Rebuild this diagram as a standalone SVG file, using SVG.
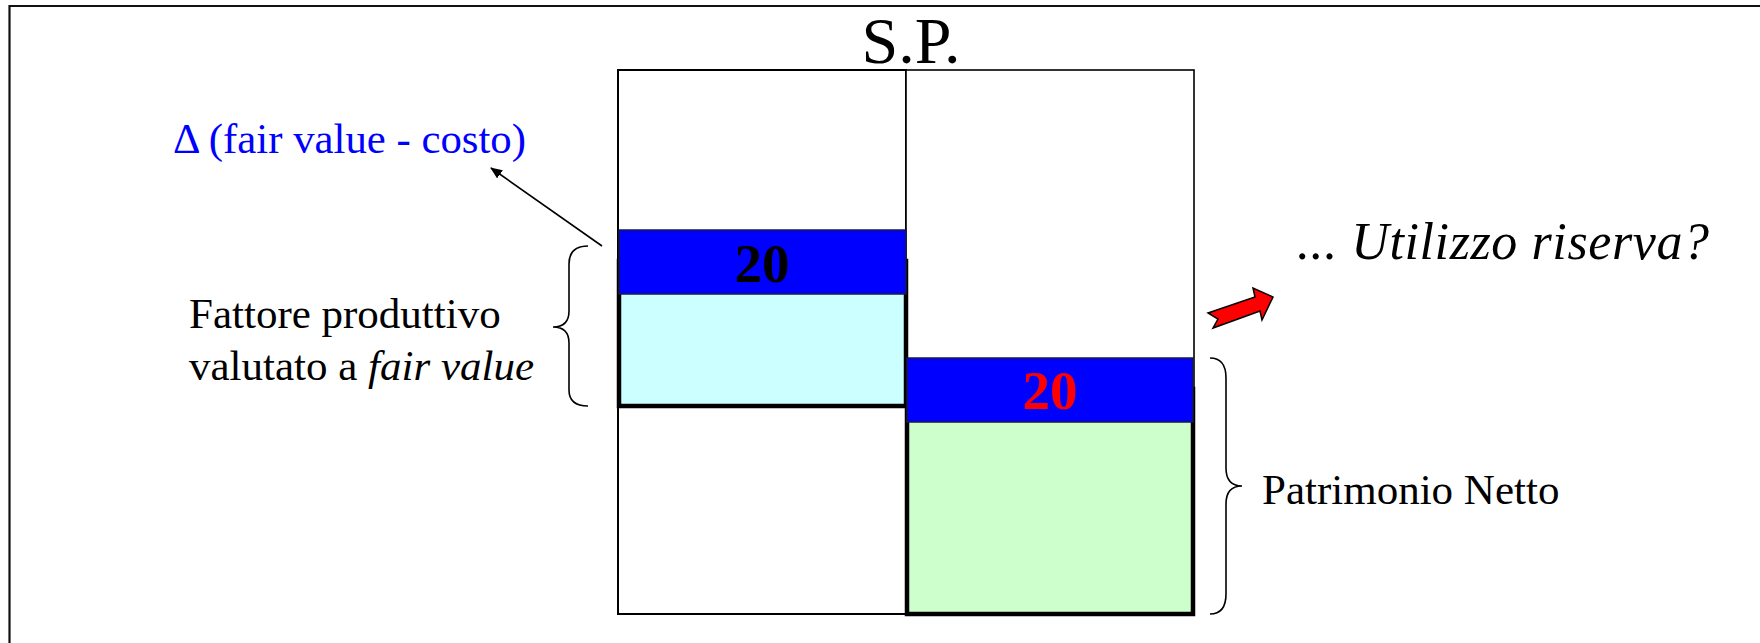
<svg xmlns="http://www.w3.org/2000/svg" width="1760" height="643" viewBox="0 0 1760 643">
<defs>
<style>
text{font-family:"Liberation Serif","Times New Roman",Times,"DejaVu Serif",serif}
.t{font-size:43px;fill:#000}
.i{font-style:italic}
.num{font-size:55px;font-weight:bold;text-anchor:middle}
.brace{fill:none;stroke:#000;stroke-width:1.6}
.col{fill:#fff;stroke:#000;stroke-width:1.6}
.thick{stroke:#000;stroke-width:4.5}
.bar{fill:#0000FF;stroke:#1a1a40;stroke-width:1.5}
</style>
<marker id="ah" viewBox="0 0 12 10" refX="11" refY="5" markerWidth="12" markerHeight="10" markerUnits="userSpaceOnUse" orient="auto">
<path d="M0,0 L12,5 L0,10 z" fill="#000"/>
</marker>
</defs>
<rect width="1760" height="643" fill="#fff"/>
<path d="M9.5,643 V6 H1760" fill="none" stroke="#111" stroke-width="2.2"/>

<g id="title"><text class="t" font-family="Liberation Serif, serif" x="911" y="63" style="font-size:66px" text-anchor="middle">S.P.</text></g>

<g id="left-column">
<rect class="col" x="618" y="70" width="288" height="544" style="stroke-width:2"/>
</g>
<g id="right-column">
<rect class="col" x="906" y="70" width="288" height="544"/>
</g>

<g id="fattore-produttivo">
<rect class="thick" x="619" y="261" width="287" height="145" fill="#CCFFFF"/>
<rect class="bar" x="619" y="230" width="287" height="64"/>
<text class="num" font-family="Liberation Serif, serif" x="762" y="282" fill="#000">20</text>
</g>

<g id="patrimonio-netto">
<rect class="thick" x="907" y="389" width="286" height="225" fill="#CCFFCC"/>
<rect class="bar" x="907" y="358" width="286" height="64"/>
<text class="num" font-family="Liberation Serif, serif" x="1050" y="409" fill="#FF0000">20</text>
</g>

<g id="label-delta"><text class="t" font-family="Liberation Serif, serif" x="173" y="153" style="fill:#0000FF" textLength="353" lengthAdjust="spacingAndGlyphs">Δ (fair value - costo)</text></g>

<g id="label-fattore">
<path class="brace" d="M588,246 Q569,246 569,264 L569,311 Q569,327 553,327 Q569,327 569,343 L569,390 Q569,406 588,406"/>
<text class="t" font-family="Liberation Serif, serif" x="189" y="328">Fattore produttivo</text>
<text class="t" font-family="Liberation Serif, serif" x="189" y="380">valutato a <tspan class="i">fair value</tspan></text>
</g>

<g id="label-patrimonio">
<path class="brace" d="M1210,358 Q1226,358 1226,378 L1226,468 Q1226,486 1242,486 Q1226,486 1226,504 L1226,594 Q1226,614 1210,614"/>
<text class="t" font-family="Liberation Serif, serif" x="1262" y="504">Patrimonio Netto</text>
</g>

<g id="label-utilizzo">
<text class="t i" font-family="Liberation Serif, serif" x="1297" y="259" style="font-size:52px" textLength="412" lengthAdjust="spacing">... Utilizzo riserva?</text>
</g>

<g id="connectors">
<line x1="602" y1="246" x2="491" y2="168" stroke="#000" stroke-width="1.6" marker-end="url(#ah)"/>
<polygon points="1208,313 1255,297 1253,288 1273,297 1262,320 1260,311 1213,328 1218,319" fill="#FF0000" stroke="#000" stroke-width="1.5" stroke-linejoin="miter"/>
</g>
</svg>
